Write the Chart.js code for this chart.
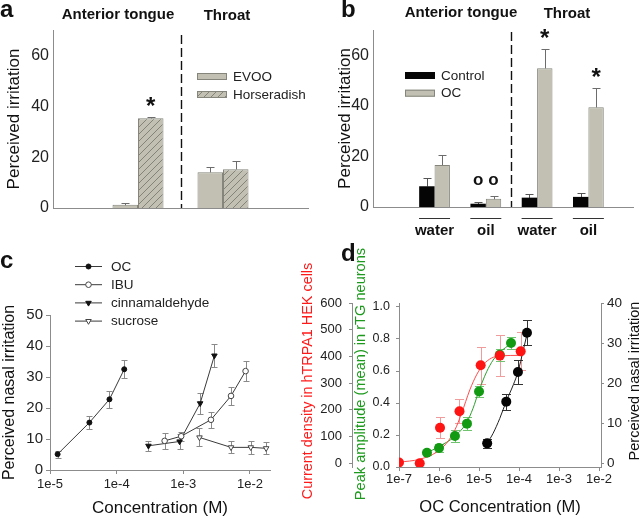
<!DOCTYPE html>
<html>
<head>
<meta charset="utf-8">
<script src="https://cdn.jsdelivr.net/npm/chart.js@4.4.1/dist/chart.umd.min.js"></script>
<style>
  body { margin: 0; background: #fff; width: 640px; height: 519px; position: relative; overflow: hidden; font-family: 'Liberation Sans', Arial, sans-serif; }
  canvas { position: absolute; }
  .letter { position: absolute; font-weight: bold; font-size: 24px; line-height: 24px; color: #111; }
  .gt { position: absolute; width: 200px; text-align: center; font-weight: bold; font-size: 15px; line-height: 18px; color: #111; }
</style>
</head>
<body>
<canvas id="chartA" width="320" height="260" style="left:0;top:0"></canvas>
<canvas id="chartB" width="320" height="260" style="left:320px;top:0"></canvas>
<canvas id="chartC" width="295" height="259" style="left:0;top:260px"></canvas>
<canvas id="chartD" width="345" height="289" style="left:295px;top:230px"></canvas>

<div class="letter" style="left:0;top:-3px">a</div>
<div class="letter" style="left:341px;top:-3px">b</div>
<div class="letter" style="left:0;top:248px">c</div>
<div class="letter" style="left:341px;top:241px">d</div>
<div class="gt" style="left:18px;top:5px">Anterior tongue</div>
<div class="gt" style="left:127px;top:6px">Throat</div>
<div class="gt" style="left:361px;top:3px">Anterior tongue</div>
<div class="gt" style="left:467px;top:4px">Throat</div>

<script>
const FONT = "'Liberation Sans', Arial, sans-serif";
Chart.defaults.font.family = FONT;
Chart.defaults.color = '#222';

const GREY = '#c1c0b3';
const EDGE = '#85857c';
const AXIS = '#8c8c8c';

// panel a
const aGroups = ['Anterior tongue', 'Throat'];
const aEvoo = [1.3, 14.1];
const aEvooErr = [0.5, 2.0];
const aHorse = [35.3, 15.2];
const aHorseErr = [0.4, 3.3];
const aHorseMarks = ['*', ''];
const aTicksY = [0, 20, 40, 60];

// panel b
const bLabels = ['water', 'oil', 'water', 'oil'];
const bControl = [8.2, 1.3, 3.7, 4.0];
const bControlErr = [3.2, 0.8, 1.4, 1.6];
const bOC = [16.6, 3.3, 54.9, 39.4];
const bOCErr = [4.0, 0.9, 7.4, 7.6];
const bControlMarks = ['', 'o', '', ''];
const bOCMarks = ['', 'o', '*', '*'];
const bTicksY = [0, 20, 40, 60];

// panel c
const cOcConc = [1.3e-5, 3.9e-5, 7.8e-5, 1.3e-4];
const cOc = [5.1, 15.3, 22.8, 32.5];
const cOcErr = [1.1, 2.1, 2.7, 2.9];
const cIbuConc = [5.25e-4, 9.3e-4, 2.6e-3, 5.2e-3, 8.6e-3];
const cIbu = [9.4, 10.9, 16.2, 23.9, 31.9];
const cIbuErr = [2.6, 1.5, 2.6, 2.9, 3.2];
const cCinConc = [3.0e-4, 8.8e-4, 1.79e-3, 2.93e-3];
const cCin = [7.8, 9.2, 21.5, 36.9];
const cCinErr = [1.6, 2.3, 3.5, 3.8];
const cSucConc = [1.75e-3, 5.2e-3, 1.03e-2, 1.75e-2];
const cSuc = [10.5, 7.3, 7.3, 7.0];
const cSucErr = [2.9, 1.9, 2.2, 1.9];
const cTicksX = [1e-5, 1e-4, 1e-3, 1e-2];
const cTicksY = [0, 10, 20, 30, 40, 50];

// panel d
const dRedConc = [1e-7, 3.3e-7, 1.06e-6, 3.25e-6, 1.1e-5, 3.3e-5, 1.1e-4];
const dRed = [3, 0, 133, 195, 367, 403, 419];
const dRedErr = [0, 0, 39, 45, 70, 77, 71];
const dGreenConc = [5e-7, 1e-6, 2.5e-6, 5e-6, 1e-5, 3.3e-5, 6.3e-5];
const dGreen = [0.089, 0.119, 0.194, 0.271, 0.472, 0.702, 0.775];
const dGreenErr = [0.017, 0.025, 0.037, 0.04, 0.036, 0.037, 0.04];
const dBlackConc = [1.6e-5, 4.8e-5, 9.4e-5, 1.58e-4];
const dBlack = [5.0, 15.4, 22.8, 32.6];
const dBlackErr = [1.2, 2.0, 2.9, 3.1];
const dRedFitConc = [1e-7, 3.3e-7, 8.6e-7, 1.54e-6, 2.5e-6, 3.67e-6, 5.9e-6, 8.7e-6, 1.27e-5, 2.07e-5, 3.3e-5, 1.1e-4];
const dRedFit = [4, 15, 41, 75, 125, 187, 275, 331, 369, 394, 402, 404];
const dGreenFitConc = [4.86e-7, 1e-6, 2.44e-6, 4.9e-6, 7.1e-6, 9.8e-6, 1.55e-5, 2.25e-5, 3.3e-5, 6.3e-5];
const dGreenFit = [0.087, 0.128, 0.19, 0.278, 0.367, 0.471, 0.595, 0.668, 0.716, 0.772];
const dBlackFitConc = [1.6e-5, 2.25e-5, 3.3e-5, 4.8e-5, 7.2e-5, 9.4e-5, 1.28e-4, 1.7e-4];
const dBlackFit = [5.0, 7.5, 11.2, 15.5, 19.6, 22.8, 28.3, 33.5];
const dTicksX = [1e-7, 1e-6, 1e-5, 1e-4, 1e-3, 1e-2];
const dTicksRed = [0, 100, 200, 300, 400, 500, 600];
const dTicksGreen = [0, 0.2, 0.4, 0.6, 0.8, 1.0];
const dTicksNasal = [0, 10, 20, 30, 40];

function pts(xs, ys) { return xs.map((x, i) => ({ x: x, y: ys[i] })); }
function fixTicks(list) { return (s) => { s.ticks = list.map(v => ({ value: v })); }; }
const expLabel = (v) => '1e' + Math.round(Math.log10(v));

// diagonal hatching for the horseradish bars
function hatch() {
  const c = document.createElement('canvas');
  c.width = 7; c.height = 7;
  const g = c.getContext('2d');
  g.fillStyle = GREY;
  g.fillRect(0, 0, 7, 7);
  g.strokeStyle = '#7c7c74';
  g.lineWidth = 0.9;
  g.beginPath();
  g.moveTo(-1, 8); g.lineTo(8, -1);
  g.moveTo(-3, 3); g.lineTo(3, -3);
  g.moveTo(4, 10); g.lineTo(10, 4);
  g.stroke();
  return g.createPattern(c, 'repeat');
}

// vertical error bars, drawn under the marks
const errorBars = {
  id: 'errorBars',
  beforeDatasetsDraw(chart, args, opts) {
    const ctx = chart.ctx;
    chart.data.datasets.forEach((ds, i) => {
      if (!ds.err) return;
      const meta = chart.getDatasetMeta(i);
      const ys = chart.scales[meta.yAxisID];
      const cap = ds.errCap || opts.cap || 3;
      ctx.save();
      ctx.strokeStyle = ds.errColor || '#666';
      ctx.lineWidth = 1;
      meta.data.forEach((el, j) => {
        const e = ds.err[j];
        if (!e) return;
        const v = ds.data[j].y;
        const x = Math.round(el.x) + 0.5;
        const top = Math.round(ys.getPixelForValue(v + e)) + 0.5;
        const bot = Math.round(ys.getPixelForValue(opts.upOnly ? v : v - e)) + 0.5;
        ctx.beginPath();
        ctx.moveTo(x, bot); ctx.lineTo(x, top);
        ctx.moveTo(x - cap, top); ctx.lineTo(x + cap, top);
        if (!opts.upOnly) { ctx.moveTo(x - cap, bot); ctx.lineTo(x + cap, bot); }
        ctx.stroke();
      });
      ctx.restore();
    });
  }
};

// significance marks above bars
const barMarks = {
  id: 'barMarks',
  afterDatasetsDraw(chart) {
    const ctx = chart.ctx, ys = chart.scales.y;
    const tops = [];
    chart.data.datasets.forEach((ds) => {
      ds.data.forEach((p, j) => {
        const t = ys.getPixelForValue(p.y + (ds.err ? ds.err[j] : 0));
        tops[j] = tops[j] === undefined ? t : Math.min(tops[j], t);
      });
    });
    chart.data.datasets.forEach((ds, i) => {
      if (!ds.marks) return;
      const meta = chart.getDatasetMeta(i);
      ds.marks.forEach((m, j) => {
        if (!m) return;
        ctx.save();
        ctx.fillStyle = '#111';
        ctx.textAlign = 'center';
        ctx.textBaseline = 'alphabetic';
        if (m === '*') {
          ctx.font = 'bold 24px ' + FONT;
          ctx.fillText(m, meta.data[j].x, tops[j] - 3);
        } else {
          ctx.font = 'bold 17px ' + FONT;
          ctx.fillText(m, meta.data[j].x, tops[j] - 11);
        }
        ctx.restore();
      });
    });
  }
};

// dashed separator between the two sites
const divider = {
  id: 'divider',
  afterDatasetsDraw(chart, args, opts) {
    const xs = chart.scales.x, area = chart.chartArea, ctx = chart.ctx;
    const x = Math.round((xs.getPixelForValue(opts.between[0]) + xs.getPixelForValue(opts.between[1])) / 2) + 0.5;
    ctx.save();
    ctx.strokeStyle = '#111';
    ctx.lineWidth = 1.4;
    ctx.setLineDash([9, 4]);
    ctx.beginPath();
    ctx.moveTo(x, area.top + opts.gap);
    ctx.lineTo(x, area.bottom);
    ctx.stroke();
    ctx.restore();
  }
};

// swatch legend for the bar panels
const boxLegend = {
  id: 'boxLegend',
  afterDraw(chart, args, opts) {
    const ctx = chart.ctx;
    chart.data.datasets.forEach((ds, i) => {
      const y = opts.y + i * opts.gap;
      ctx.save();
      ctx.fillStyle = ds.backgroundColor;
      ctx.fillRect(opts.x, y - 3, 30, 7);
      if (ds.borderWidth) {
        ctx.strokeStyle = ds.borderColor;
        ctx.lineWidth = 1;
        ctx.strokeRect(opts.x + 0.5, y - 2.5, 29, 6);
      }
      ctx.fillStyle = '#222';
      ctx.font = opts.size + 'px ' + FONT;
      ctx.textBaseline = 'middle';
      ctx.fillText(ds.label, opts.x + 36, y + 1);
      ctx.restore();
    });
  }
};

// underline beneath each x label of panel b
const underline = {
  id: 'underline',
  afterDraw(chart, args, opts) {
    const xs = chart.scales.x, ctx = chart.ctx;
    const y = Math.round(chart.chartArea.bottom + opts.dy) + 0.5;
    ctx.save();
    ctx.strokeStyle = '#333';
    ctx.lineWidth = 1;
    xs.ticks.forEach((t) => {
      const x = xs.getPixelForValue(t.value);
      ctx.beginPath();
      ctx.moveTo(x - opts.half, y);
      ctx.lineTo(x + opts.half, y);
      ctx.stroke();
    });
    ctx.restore();
  }
};

// line + marker legend for panel c
const lineLegend = {
  id: 'lineLegend',
  afterDraw(chart, args, opts) {
    const ctx = chart.ctx;
    chart.data.datasets.forEach((ds, i) => {
      const y = opts.y + i * opts.gap;
      ctx.save();
      ctx.strokeStyle = ds.borderColor;
      ctx.lineWidth = 1;
      ctx.beginPath();
      ctx.moveTo(opts.x0, y + 0.5);
      ctx.lineTo(opts.x1, y + 0.5);
      ctx.stroke();
      ctx.fillStyle = ds.pointBackgroundColor;
      ctx.strokeStyle = ds.pointBorderColor;
      Chart.helpers.drawPoint(ctx, { pointStyle: ds.pointStyle, rotation: ds.pointRotation || 0, radius: ds.pointRadius, borderWidth: 1 }, (opts.x0 + opts.x1) / 2, y + 0.5);
      ctx.fillStyle = '#222';
      ctx.font = opts.size + 'px ' + FONT;
      ctx.textBaseline = 'middle';
      ctx.fillText(ds.label, opts.x1 + 9, y + 1);
      ctx.restore();
    });
  }
};

// rotated axis titles for panel d (all read bottom to top)
const sideTitles = {
  id: 'sideTitles',
  afterDraw(chart, args, opts) {
    const ctx = chart.ctx;
    opts.items.forEach((t) => {
      ctx.save();
      ctx.translate(t.x, t.y);
      ctx.rotate(-Math.PI / 2);
      ctx.fillStyle = t.color;
      ctx.font = t.size + 'px ' + FONT;
      ctx.textAlign = 'center';
      ctx.textBaseline = 'middle';
      ctx.fillText(t.text, 0, 0);
      ctx.restore();
    });
  }
};

const common = { responsive: false, animation: false, devicePixelRatio: 1 };
const noPlugins = { legend: { display: false }, tooltip: { enabled: false } };

// ---------- panel a ----------
const aPos = aGroups.map((g, i) => i + 1);
new Chart(document.getElementById('chartA'), {
  type: 'bar',
  data: {
    datasets: [
      { label: 'EVOO', data: pts(aPos, aEvoo), err: aEvooErr, backgroundColor: GREY, borderColor: EDGE, borderWidth: 1,
        categoryPercentage: 0.6, barPercentage: 1, errColor: '#6c6c6c' },
      { label: 'Horseradish', data: pts(aPos, aHorse), err: aHorseErr, marks: aHorseMarks, backgroundColor: hatch(), borderColor: EDGE, borderWidth: 1,
        categoryPercentage: 0.6, barPercentage: 1, errColor: '#6c6c6c' }
    ]
  },
  options: Object.assign({}, common, {
    layout: { padding: { left: 4, top: 30, right: 12, bottom: 52 } },
    plugins: Object.assign({}, noPlugins, {
      errorBars: { upOnly: true, cap: 4 },
      divider: { between: [1, 2], gap: 5 },
      boxLegend: { x: 197, y: 76, gap: 18, size: 13.5 }
    }),
    scales: {
      x: { type: 'linear', min: 0, max: 3, offset: false, afterBuildTicks: fixTicks(aPos),
        ticks: { display: false }, grid: { display: false, drawTicks: false, offset: false },
        border: { color: AXIS }, afterFit: (s) => { s.height = 0; } },
      y: { min: 0, max: 70, afterBuildTicks: fixTicks(aTicksY),
        ticks: { font: { size: 16 }, padding: 4, color: '#222' },
        grid: { display: false, drawTicks: false }, border: { color: AXIS },
        title: { display: true, text: 'Perceived irritation', font: { size: 17 }, padding: 0, color: '#111' },
        afterFit: (s) => { s.width = 49; } }
    }
  }),
  plugins: [errorBars, barMarks, divider, boxLegend]
});

// ---------- panel b ----------
const bPos = bLabels.map((g, i) => i + 1);
new Chart(document.getElementById('chartB'), {
  type: 'bar',
  data: {
    datasets: [
      { label: 'Control', data: pts(bPos, bControl), err: bControlErr, marks: bControlMarks, backgroundColor: '#050505', borderWidth: 0,
        categoryPercentage: 0.6, barPercentage: 1, errColor: '#555' },
      { label: 'OC', data: pts(bPos, bOC), err: bOCErr, marks: bOCMarks, backgroundColor: GREY, borderColor: EDGE, borderWidth: 1,
        categoryPercentage: 0.6, barPercentage: 1, errColor: '#6c6c6c' }
    ]
  },
  options: Object.assign({}, common, {
    layout: { padding: { left: 15, top: 30, right: 7, bottom: 0 } },
    plugins: Object.assign({}, noPlugins, {
      errorBars: { upOnly: true, cap: 4 },
      divider: { between: [2, 3], gap: 2 },
      boxLegend: { x: 85, y: 75, gap: 17.7, size: 13.5 },
      underline: { dy: 11, half: 15.5 }
    }),
    scales: {
      x: { type: 'linear', min: -0.2, max: 4.87, offset: false, afterBuildTicks: fixTicks(bPos),
        ticks: { callback: (v) => bLabels[v - 1], font: { size: 15, weight: 'bold' }, padding: 15, color: '#111', maxRotation: 0, autoSkip: false },
        grid: { display: false, drawTicks: false, offset: false },
        border: { color: AXIS }, afterFit: (s) => { s.height = 53; } },
      y: { min: 0, max: 70, afterBuildTicks: fixTicks(bTicksY),
        ticks: { font: { size: 16 }, padding: 4, color: '#222' },
        grid: { display: false, drawTicks: false }, border: { color: AXIS },
        title: { display: true, text: 'Perceived irritation', font: { size: 17 }, padding: 0, color: '#111' },
        afterFit: (s) => { s.width = 38; } }
    }
  }),
  plugins: [errorBars, barMarks, divider, boxLegend, underline]
});

// ---------- panel c ----------
const lineStyle = { borderColor: '#3a3a3a', borderWidth: 1, tension: 0, errColor: '#8a8a8a', pointBorderWidth: 1 };
new Chart(document.getElementById('chartC'), {
  type: 'line',
  data: {
    datasets: [
      Object.assign({ label: 'OC', data: pts(cOcConc, cOc), err: cOcErr, pointStyle: 'circle', pointRadius: 2.5,
        pointBackgroundColor: '#111', pointBorderColor: '#111' }, lineStyle),
      Object.assign({ label: 'IBU', data: pts(cIbuConc, cIbu), err: cIbuErr, pointStyle: 'circle', pointRadius: 2.8,
        pointBackgroundColor: '#fff', pointBorderColor: '#444' }, lineStyle),
      Object.assign({ label: 'cinnamaldehyde', data: pts(cCinConc, cCin), err: cCinErr, pointStyle: 'triangle', pointRotation: 180, pointRadius: 3.2,
        pointBackgroundColor: '#111', pointBorderColor: '#111' }, lineStyle),
      Object.assign({ label: 'sucrose', data: pts(cSucConc, cSuc), err: cSucErr, pointStyle: 'triangle', pointRotation: 180, pointRadius: 3.2,
        pointBackgroundColor: '#fff', pointBorderColor: '#444' }, lineStyle)
    ]
  },
  options: Object.assign({}, common, {
    layout: { padding: { left: 0, top: 55, right: 25, bottom: 0 } },
    plugins: Object.assign({}, noPlugins, {
      errorBars: { upOnly: false, cap: 3 },
      lineLegend: { x0: 75, x1: 102, y: 6, gap: 18.2, size: 13.5 }
    }),
    scales: {
      x: { type: 'logarithmic', min: 1e-5, max: 2e-2, afterBuildTicks: fixTicks(cTicksX),
        ticks: { callback: expLabel, font: { size: 13 }, padding: 3, color: '#222', maxRotation: 0, autoSkip: false },
        grid: { display: true, drawOnChartArea: false, drawTicks: true, tickLength: 4, color: AXIS },
        border: { color: AXIS },
        title: { display: true, text: 'Concentration (M)', font: { size: 17 }, padding: 0, color: '#111' },
        afterFit: (s) => { s.height = 49; } },
      y: { min: 0, max: 50, afterBuildTicks: fixTicks(cTicksY),
        ticks: { font: { size: 15 }, padding: 3, color: '#222' },
        grid: { display: true, drawOnChartArea: false, drawTicks: true, tickLength: 4, color: AXIS },
        border: { color: AXIS },
        title: { display: true, text: 'Perceived nasal irritation', font: { size: 16 }, padding: 0, color: '#111' },
        afterFit: (s) => { s.width = 50; } }
    }
  }),
  plugins: [errorBars, lineLegend]
});

// ---------- panel d ----------
const dot = { showLine: false, pointRadius: 5, pointBorderWidth: 0, pointStyle: 'circle' };
const fit = { pointRadius: 0, borderWidth: 1, cubicInterpolationMode: 'monotone', fill: false };
new Chart(document.getElementById('chartD'), {
  type: 'line',
  data: {
    datasets: [
      Object.assign({ label: 'hTRPA1 HEK', data: pts(dRedConc, dRed), err: dRedErr, errColor: '#f19c9c', errCap: 4.5, yAxisID: 'yR',
        pointBackgroundColor: '#ff1414', pointBorderColor: '#ff1414' }, dot),
      Object.assign({ label: 'rTG neurons', data: pts(dGreenConc, dGreen), err: dGreenErr, errColor: '#6fc46f', errCap: 4.5, yAxisID: 'yG',
        pointBackgroundColor: '#129a12', pointBorderColor: '#129a12' }, dot),
      Object.assign({ label: 'nasal irritation', data: pts(dBlackConc, dBlack), err: dBlackErr, errColor: '#333', errCap: 4.5, yAxisID: 'yK',
        pointBackgroundColor: '#050505', pointBorderColor: '#050505' }, dot),
      Object.assign({ label: 'fit red', data: pts(dRedFitConc, dRedFit), yAxisID: 'yR', borderColor: '#ff4a4a' }, fit),
      Object.assign({ label: 'fit green', data: pts(dGreenFitConc, dGreenFit), yAxisID: 'yG', borderColor: '#2c9e2c' }, fit),
      Object.assign({ label: 'fit black', data: pts(dBlackFitConc, dBlackFit), yAxisID: 'yK', borderColor: '#222' }, fit)
    ]
  },
  options: Object.assign({}, common, {
    layout: { padding: { left: 6, top: 73, right: 0, bottom: 2 } },
    plugins: Object.assign({}, noPlugins, {
      errorBars: { upOnly: false, cap: 4 },
      sideTitles: { items: [
        { text: 'Current density in hTRPA1 HEK cells', x: 13, y: 151, size: 14.4, color: '#ff1a1a' },
        { text: 'Peak amplitude (mean) in rTG neurons', x: 66, y: 144, size: 14.6, color: '#1c9a1c' },
        { text: 'Perceived nasal irritation', x: 340, y: 151, size: 14.5, color: '#111' }
      ] }
    }),
    scales: {
      x: { type: 'logarithmic', min: 1e-7, max: 1.12e-2, afterBuildTicks: fixTicks(dTicksX),
        ticks: { callback: expLabel, font: { size: 13 }, padding: 1, color: '#222', maxRotation: 0, autoSkip: false },
        grid: { display: true, drawOnChartArea: false, drawTicks: true, tickLength: 4, color: AXIS },
        border: { color: AXIS },
        title: { display: true, text: 'OC Concentration (M)', font: { size: 16.5 }, padding: 0, color: '#111' },
        afterFit: (s) => { s.height = 50; } },
      yR: { position: 'left', weight: 1, min: -14, max: 600, afterBuildTicks: fixTicks(dTicksRed),
        ticks: { font: { size: 13 }, padding: 7, color: '#222' },
        grid: { display: true, drawOnChartArea: false, drawTicks: true, tickLength: 3, color: AXIS },
        border: { color: AXIS }, afterFit: (s) => { s.width = 51; } },
      yG: { position: 'left', weight: 0, min: 0, max: 1.025, afterBuildTicks: fixTicks(dTicksGreen),
        ticks: { callback: (v) => v.toFixed(1), font: { size: 12.5 }, padding: 6, color: '#222' },
        grid: { display: true, drawOnChartArea: false, drawTicks: true, tickLength: 3, color: AXIS },
        border: { color: AXIS }, afterFit: (s) => { s.width = 47; } },
      yK: { position: 'right', min: -0.9, max: 40, afterBuildTicks: fixTicks(dTicksNasal),
        ticks: { font: { size: 13.5 }, padding: 3, color: '#222' },
        grid: { display: true, drawOnChartArea: false, drawTicks: true, tickLength: 3, color: AXIS },
        border: { color: AXIS }, afterFit: (s) => { s.width = 39; } }
    }
  }),
  plugins: [errorBars, sideTitles]
});
</script>
</body>
</html>
